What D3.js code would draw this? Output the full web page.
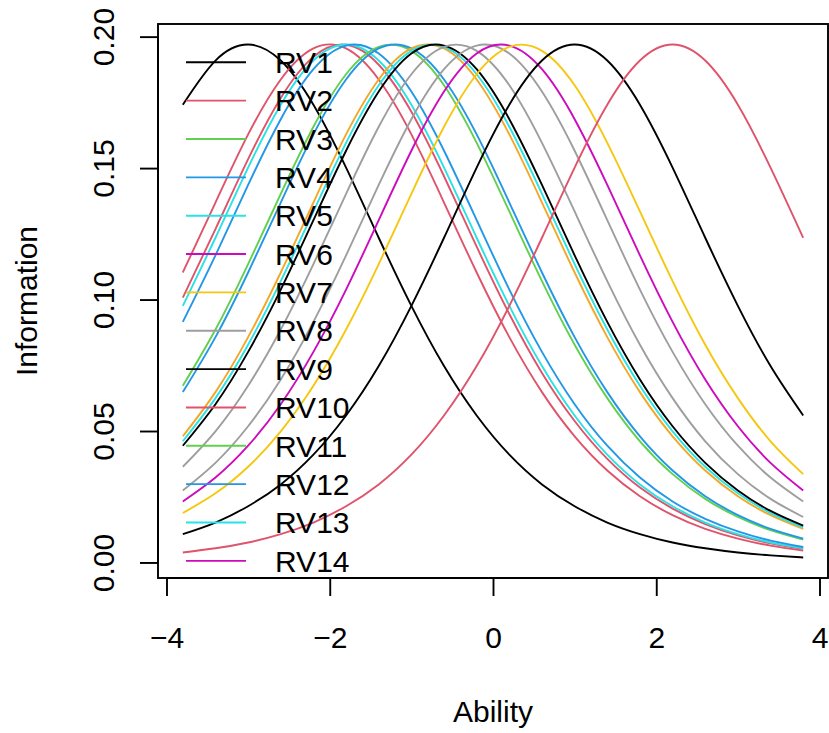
<!DOCTYPE html>
<html>
<head>
<meta charset="utf-8">
<script src="https://cdn.jsdelivr.net/npm/d3@7"></script>
<style>
  html, body { margin: 0; padding: 0; background: #ffffff; }
  svg { display: block; }
  text { font-family: "Liberation Sans", Arial, Helvetica, sans-serif; fill: #000; }
</style>
</head>
<body>
<svg id="chart" width="829" height="733"></svg>
<script>
// Ability grid shared by every item information curve
const ability = [-3.8, -3.4, -3.0, -2.6, -2.2, -1.8, -1.4, -1.0, -0.6, -0.2,
                  0.2,  0.6,  1.0,  1.4,  1.8,  2.2,  2.6,  3.0,  3.4,  3.8];

// Item information at each ability value, one array per item curve
const info01 = [.1741, .1909, .1970, .1909, .1741, .1502, .1235, .0976, .0747, .0559, .0410, .0297, .0214, .0152, .0108, .0076, .0054, .0038, .0027, .0019];
const info02 = [.1103, .1369, .1628, .1837, .1955, .1955, .1837, .1628, .1369, .1103, .0857, .0648, .0480, .0350, .0252, .0180, .0128, .0091, .0064, .0045];
const info03 = [.1007, .1268, .1534, .1767, .1923, .1969, .1893, .1714, .1469, .1201, .0945, .0721, .0538, .0394, .0285, .0205, .0146, .0103, .0073, .0052];
const info04 = [.0976, .1235, .1502, .1741, .1909, .1970, .1909, .1741, .1502, .1235, .0976, .0747, .0559, .0410, .0297, .0214, .0152, .0108, .0076, .0054];
const info05 = [.0915, .1168, .1436, .1686, .1876, .1966, .1936, .1791, .1566, .1302, .1038, .0801, .0602, .0444, .0323, .0232, .0166, .0118, .0083, .0059];
const info06 = [.0672, .0886, .1135, .1402, .1657, .1857, .1961, .1946, .1815, .1596, .1335, .1070, .0828, .0625, .0461, .0336, .0242, .0173, .0123, .0087];
const info07 = [.0648, .0857, .1103, .1369, .1628, .1837, .1955, .1955, .1837, .1628, .1369, .1103, .0857, .0648, .0480, .0350, .0252, .0180, .0128, .0091];
const info08 = [.0480, .0648, .0857, .1103, .1369, .1628, .1837, .1955, .1955, .1837, .1628, .1369, .1103, .0857, .0648, .0480, .0350, .0252, .0180, .0128];
const info09 = [.0461, .0625, .0828, .1070, .1335, .1596, .1815, .1946, .1961, .1857, .1657, .1402, .1135, .0886, .0672, .0499, .0364, .0263, .0188, .0134];
const info10 = [.0444, .0602, .0801, .1038, .1302, .1566, .1791, .1936, .1966, .1876, .1686, .1436, .1168, .0915, .0696, .0518, .0379, .0274, .0196, .0140];
const info11 = [.0364, .0499, .0672, .0886, .1135, .1402, .1657, .1857, .1961, .1946, .1815, .1596, .1335, .1070, .0828, .0625, .0461, .0336, .0242, .0173];
const info12 = [.0274, .0379, .0518, .0696, .0915, .1168, .1436, .1686, .1876, .1966, .1936, .1791, .1566, .1302, .1038, .0801, .0602, .0444, .0323, .0232];
const info13 = [.0232, .0323, .0444, .0602, .0801, .1038, .1302, .1566, .1791, .1936, .1966, .1876, .1686, .1436, .1168, .0915, .0696, .0518, .0379, .0274];
const info14 = [.0188, .0263, .0364, .0499, .0672, .0886, .1135, .1402, .1657, .1857, .1961, .1946, .1815, .1596, .1335, .1070, .0828, .0625, .0461, .0336];
const info15 = [.0108, .0152, .0214, .0297, .0410, .0559, .0747, .0976, .1235, .1502, .1741, .1909, .1970, .1909, .1741, .1502, .1235, .0976, .0747, .0559];
const info16 = [.0038, .0054, .0076, .0108, .0152, .0214, .0297, .0410, .0559, .0747, .0976, .1235, .1502, .1741, .1909, .1970, .1909, .1741, .1502, .1235];

const curveValues = [info01, info02, info03, info04, info05, info06, info07, info08,
                     info09, info10, info11, info12, info13, info14, info15, info16];

// Legend labels
const itemLabels = ["RV1", "RV2", "RV3", "RV4", "RV5", "RV6", "RV7", "RV8",
                    "RV9", "RV10", "RV11", "RV12", "RV13", "RV14", "RV15", "RV16"];

// Axis ticks
const xTicks = [-4, -2, 0, 2, 4];
const yTicks = [0, 0.05, 0.10, 0.15, 0.20];
const xTitle = "Ability";
const yTitle = "Information";

// Styles
const palette = ["#000000", "#DF536B", "#61D04F", "#2297E6", "#28E2E5", "#CD0BBC", "#F5C710", "#9E9E9E"];
const curveColors = ["#000000", "#DF536B", "#DF536B", "#28E2E5", "#2297E6", "#61D04F", "#2297E6", "#F4A726",
                     "#28E2E5", "#000000", "#9E9E9E", "#9E9E9E", "#CD0BBC", "#F5C710", "#000000", "#DF536B"];
const legendColors = itemLabels.map((_, i) => palette[i % palette.length]);

const FONT = 30;
const LW = 1.9;
const box = { left: 158, right: 828, top: 24, bottom: 578 };

const svg = d3.select("#chart");

// Axis limits padded by 4% on both sides of the data range
function padded(ext) {
  const r = ext[1] - ext[0];
  return [ext[0] - 0.04 * r, ext[1] + 0.04 * r];
}
const x = d3.scaleLinear().domain(padded(d3.extent(ability))).range([box.left, box.right]);
const y = d3.scaleLinear().domain(padded(d3.extent(curveValues.flat()))).range([box.bottom, box.top]);

svg.append("defs").append("clipPath").attr("id", "plotClip")
  .append("rect")
  .attr("x", box.left).attr("y", box.top)
  .attr("width", box.right - box.left).attr("height", box.bottom - box.top);

const plotArea = svg.append("g").attr("clip-path", "url(#plotClip)");

// Curves
const line = d3.line()
  .x((d, i) => x(ability[i]))
  .y(d => y(d))
  .curve(d3.curveNatural);

plotArea.selectAll("path.curve")
  .data(curveValues)
  .join("path")
  .attr("class", "curve")
  .attr("d", d => line(d))
  .attr("fill", "none")
  .attr("stroke", (d, i) => curveColors[i])
  .attr("stroke-width", LW)
  .attr("stroke-linejoin", "round");

// Legend (top-left, no frame); only the rows that fall inside the plot region are kept
const legendX = 186, legendLineLen = 60, legendTextX = 275, legendY0 = 62.3, legendStep = 38.35;
const legendRows = itemLabels
  .map((label, i) => ({ label, color: legendColors[i], ry: legendY0 + i * legendStep }))
  .filter(r => r.ry + FONT * 0.36 <= box.bottom);
const legend = plotArea.append("g");
const rows = legend.selectAll("g").data(legendRows).join("g")
  .attr("transform", r => `translate(0,${r.ry})`);
rows.append("line")
  .attr("x1", legendX).attr("x2", legendX + legendLineLen)
  .attr("y1", 0).attr("y2", 0)
  .attr("stroke", r => r.color)
  .attr("stroke-width", LW);
rows.append("text")
  .attr("x", legendTextX).attr("y", FONT * 0.357)
  .attr("font-size", FONT)
  .text(r => r.label);

// Plot frame
svg.append("rect")
  .attr("x", box.left).attr("y", box.top)
  .attr("width", box.right - box.left).attr("height", box.bottom - box.top)
  .attr("fill", "none").attr("stroke", "#000").attr("stroke-width", LW);

// X axis
const gx = svg.append("g")
  .attr("transform", `translate(0,${box.bottom})`)
  .call(d3.axisBottom(x).tickValues(xTicks).tickSize(18).tickSizeOuter(0)
    .tickFormat(d => (d < 0 ? "\u2212" + Math.abs(d) : String(d))));
gx.select(".domain").remove();
gx.append("line")
  .attr("x1", x(xTicks[0])).attr("x2", x(xTicks[xTicks.length - 1]))
  .attr("stroke", "#000").attr("stroke-width", LW);
gx.selectAll(".tick line").attr("stroke-width", LW);
gx.selectAll(".tick text")
  .attr("y", 70).attr("dy", null)
  .attr("font-size", FONT)
  .attr("fill", "#000");
gx.attr("font-size", null).attr("font-family", null);

// Y axis
const gy = svg.append("g")
  .attr("transform", `translate(${box.left},0)`)
  .call(d3.axisLeft(y).tickValues(yTicks).tickSize(18).tickSizeOuter(0)
    .tickFormat(d3.format(".2f")));
gy.select(".domain").remove();
gy.append("line")
  .attr("y1", y(yTicks[0])).attr("y2", y(yTicks[yTicks.length - 1]))
  .attr("stroke", "#000").attr("stroke-width", LW);
gy.selectAll(".tick line").attr("stroke-width", LW);
gy.selectAll(".tick text")
  .attr("x", 0).attr("dy", null)
  .attr("transform", "translate(-44.5,0) rotate(-90)")
  .attr("text-anchor", "middle")
  .attr("font-size", FONT)
  .attr("fill", "#000");
gy.attr("font-size", null).attr("font-family", null);

// Axis titles
svg.append("text")
  .attr("x", (box.left + box.right) / 2).attr("y", 722)
  .attr("text-anchor", "middle").attr("font-size", FONT)
  .text(xTitle);
svg.append("text")
  .attr("transform", `translate(36.5,${(box.top + box.bottom) / 2}) rotate(-90)`)
  .attr("text-anchor", "middle").attr("font-size", FONT)
  .text(yTitle);
</script>
</body>
</html>
